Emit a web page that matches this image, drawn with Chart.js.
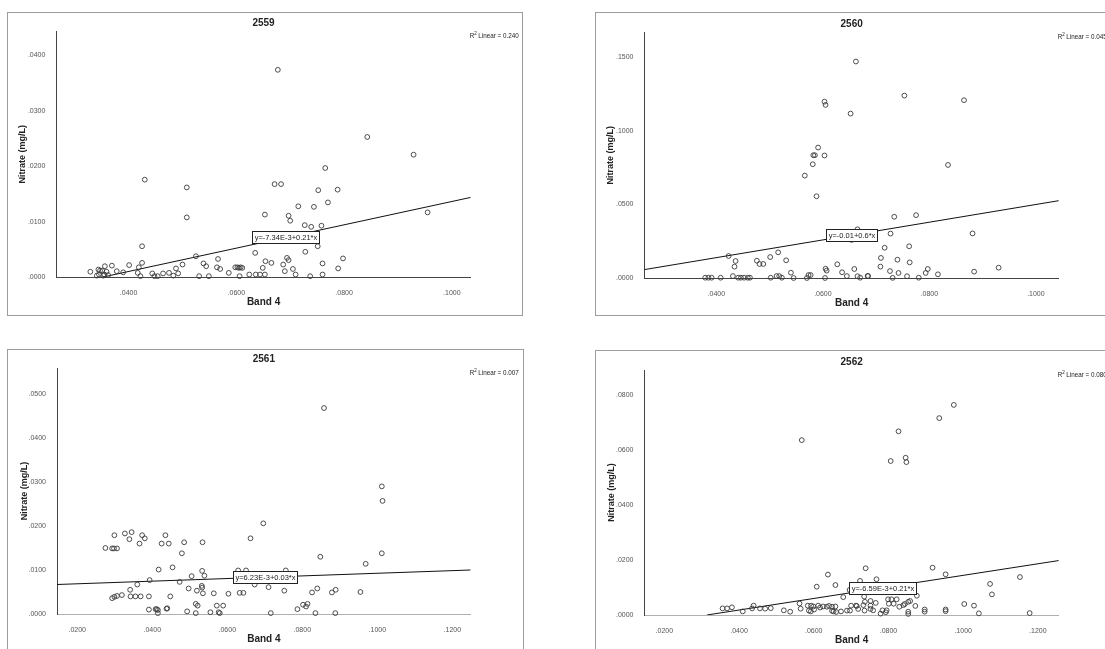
<!DOCTYPE html>
<html>
<head>
<meta charset="utf-8">
<script src="https://cdn.jsdelivr.net/npm/chart.js@4.4.1/dist/chart.umd.min.js"></script>
<style>
  html, body { margin: 0; padding: 0; background: #fff; width: 1105px; height: 649px; overflow: hidden; }
  .frame { position: absolute; border: 1px solid #9c9c9c; background: #fff; }
  canvas { display: block; }
</style>
</head>
<body>
<div class="frame" style="left:7px;top:12px;width:514px;height:302px"><canvas id="c2559" width="514" height="302"></canvas></div>
<div class="frame" style="left:595px;top:12px;width:560px;height:302px"><canvas id="c2560" width="560" height="302"></canvas></div>
<div class="frame" style="left:7px;top:349px;width:515px;height:300px"><canvas id="c2561" width="515" height="300"></canvas></div>
<div class="frame" style="left:595px;top:350px;width:560px;height:300px"><canvas id="c2562" width="560" height="300"></canvas></div>

<script>
// ---- 2559 ----
const band2559 = [0.0677, 0.0843, 0.0929, 0.0430, 0.0765, 0.0508, 0.0671, 0.0683, 0.0752, 0.0788,
  0.0770, 0.0715, 0.0744, 0.0653, 0.0697, 0.0700, 0.0508, 0.0955, 0.0727, 0.0739,
  0.0758, 0.0425, 0.0751, 0.0635, 0.0728, 0.0525, 0.0566, 0.0798, 0.0694, 0.0697,
  0.0654, 0.0665, 0.0760, 0.0687, 0.0539, 0.0544, 0.0500, 0.0425, 0.0401, 0.0419,
  0.0369, 0.0356, 0.0329, 0.0344, 0.0347, 0.0351, 0.0359, 0.0345, 0.0355, 0.0353,
  0.0378, 0.0390, 0.0417, 0.0422, 0.0444, 0.0454, 0.0448, 0.0464, 0.0475, 0.0483,
  0.0488, 0.0492, 0.0531, 0.0549, 0.0564, 0.0570, 0.0586, 0.0598, 0.0602, 0.0605,
  0.0608, 0.0611, 0.0606, 0.0624, 0.0636, 0.0644, 0.0653, 0.0649, 0.0705, 0.0789,
  0.0690, 0.0710, 0.0760, 0.0737, 0.0341, 0.0362];
const nitrate2559 = [0.0374, 0.0253, 0.0221, 0.0176, 0.0197, 0.0162, 0.0168, 0.0168, 0.0157, 0.0158,
  0.0135, 0.0128, 0.0127, 0.0113, 0.0111, 0.0102, 0.0108, 0.0117, 0.0094, 0.0091,
  0.0093, 0.0056, 0.0056, 0.0044, 0.0046, 0.0038, 0.0033, 0.0034, 0.0035, 0.0031,
  0.0029, 0.0026, 0.0025, 0.0023, 0.0025, 0.0020, 0.0023, 0.0026, 0.0022, 0.0018,
  0.0021, 0.0020, 0.0010, 0.0014, 0.0012, 0.0012, 0.0010, 0.0005, 0.0005, 0.0003,
  0.0011, 0.0009, 0.0008, 0.0002, 0.0007, 0.0002, 0.0002, 0.0007, 0.0008, 0.0003,
  0.0016, 0.0007, 0.0002, 0.0002, 0.0018, 0.0015, 0.0008, 0.0018, 0.0018, 0.0017,
  0.0018, 0.0017, 0.0002, 0.0005, 0.0005, 0.0005, 0.0005, 0.0017, 0.0015, 0.0016,
  0.0011, 0.0005, 0.0005, 0.0002, 0.0003, 0.0004];
const fit2559 = [[0.0350, 0.0], [0.1035, 0.0144]];
const xTicks2559 = [0.04, 0.06, 0.08, 0.10];
const yTicks2559 = [0, 0.01, 0.02, 0.03, 0.04];

// ---- 2560 ----
const band2560 = [0.0662, 0.0753, 0.0865, 0.0603, 0.0605, 0.0652, 0.0591, 0.0582, 0.0585, 0.0603,
  0.0581, 0.0835, 0.0566, 0.0588, 0.0775, 0.0734, 0.0665, 0.0727, 0.0881, 0.0654,
  0.0423, 0.0436, 0.0434, 0.0476, 0.0481, 0.0488, 0.0501, 0.0516, 0.0531, 0.0540,
  0.0545, 0.0605, 0.0607, 0.0627, 0.0636, 0.0659, 0.0665, 0.0573, 0.0577, 0.0570,
  0.0379, 0.0385, 0.0391, 0.0408, 0.0431, 0.0441, 0.0446, 0.0452, 0.0459, 0.0463,
  0.0502, 0.0513, 0.0518, 0.0523, 0.0604, 0.0645, 0.0670, 0.0685, 0.0716, 0.0762,
  0.0709, 0.0740, 0.0763, 0.0708, 0.0726, 0.0742, 0.0797, 0.0793, 0.0816, 0.0884,
  0.0930, 0.0684, 0.0731, 0.0758, 0.0780];
const nitrate2560 = [0.1469, 0.1238, 0.1207, 0.1197, 0.1175, 0.1116, 0.0886, 0.0834, 0.0834, 0.0832,
  0.0773, 0.0768, 0.0696, 0.0556, 0.0428, 0.0417, 0.0332, 0.0303, 0.0304, 0.0260,
  0.0151, 0.0117, 0.0079, 0.0119, 0.0097, 0.0097, 0.0144, 0.0176, 0.0122, 0.0038,
  0.0002, 0.0065, 0.0052, 0.0095, 0.0041, 0.0063, 0.0014, 0.0022, 0.0022, 0.0002,
  0.0004, 0.0004, 0.0004, 0.0004, 0.0015, 0.0004, 0.0004, 0.0004, 0.0004, 0.0004,
  0.0004, 0.0015, 0.0015, 0.0004, 0.0002, 0.0015, 0.0004, 0.0015, 0.0207, 0.0217,
  0.0138, 0.0126, 0.0108, 0.0079, 0.0049, 0.0036, 0.0063, 0.0036, 0.0027, 0.0045,
  0.0072, 0.0016, 0.0003, 0.0014, 0.0004];
const fit2560 = [[0.0265, 0.0059], [0.1043, 0.0526]];
const xTicks2560 = [0.04, 0.06, 0.08, 0.10];
const yTicks2560 = [0, 0.05, 0.10, 0.15];

// ---- 2561 ----
const band2561 = [0.0858, 0.1012, 0.1014, 0.1012, 0.0696, 0.0662, 0.0848, 0.0969, 0.0955, 0.0752,
  0.0710, 0.0673, 0.0756, 0.0840, 0.0826, 0.0889, 0.0879, 0.0802, 0.0810, 0.0814,
  0.0787, 0.0835, 0.0888, 0.0716, 0.0633, 0.0643, 0.0629, 0.0650, 0.0299, 0.0327,
  0.0345, 0.0339, 0.0373, 0.0380, 0.0366, 0.0275, 0.0293, 0.0298, 0.0306, 0.0435,
  0.0425, 0.0444, 0.0485, 0.0534, 0.0479, 0.0454, 0.0417, 0.0533, 0.0539, 0.0505,
  0.0393, 0.0473, 0.0360, 0.0341, 0.0293, 0.0299, 0.0306, 0.0319, 0.0342, 0.0355,
  0.0369, 0.0391, 0.0448, 0.0497, 0.0519, 0.0532, 0.0533, 0.0535, 0.0564, 0.0603,
  0.0516, 0.0521, 0.0572, 0.0589, 0.0391, 0.0409, 0.0412, 0.0415, 0.0438, 0.0440,
  0.0493, 0.0516, 0.0555, 0.0577, 0.0415, 0.0580];
const nitrate2561 = [0.0468, 0.0290, 0.0257, 0.0138, 0.0206, 0.0172, 0.0130, 0.0114, 0.0050, 0.0053,
  0.0061, 0.0067, 0.0099, 0.0058, 0.0049, 0.0055, 0.0049, 0.0021, 0.0017, 0.0023,
  0.0011, 0.0002, 0.0002, 0.0002, 0.0048, 0.0048, 0.0099, 0.0099, 0.0179, 0.0183,
  0.0186, 0.0170, 0.0179, 0.0172, 0.0160, 0.0150, 0.0149, 0.0149, 0.0149, 0.0179,
  0.0160, 0.0160, 0.0163, 0.0163, 0.0138, 0.0106, 0.0101, 0.0098, 0.0087, 0.0086,
  0.0077, 0.0073, 0.0067, 0.0055, 0.0036, 0.0039, 0.0041, 0.0043, 0.0040, 0.0040,
  0.0040, 0.0040, 0.0040, 0.0058, 0.0053, 0.0064, 0.0060, 0.0047, 0.0047, 0.0046,
  0.0023, 0.0019, 0.0019, 0.0019, 0.0010, 0.0011, 0.0011, 0.0009, 0.0012, 0.0013,
  0.0006, 0.0002, 0.0004, 0.0004, 0.0002, 0.0002];
const fit2561 = [[0.0146, 0.0067], [0.1249, 0.0100]];
const xTicks2561 = [0.02, 0.04, 0.06, 0.08, 0.10, 0.12];
const yTicks2561 = [0, 0.01, 0.02, 0.03, 0.04, 0.05];

// ---- 2562 ----
const band2562 = [0.0975, 0.0936, 0.0827, 0.0568, 0.0806, 0.0846, 0.0848, 0.0739, 0.0918, 0.0638,
  0.0953, 0.1152, 0.0608, 0.0658, 0.1072, 0.1077, 0.0768, 0.0724, 0.0876, 0.1003,
  0.1029, 0.1042, 0.1178, 0.0953, 0.0953, 0.0897, 0.0897, 0.0679, 0.0696, 0.0356,
  0.0368, 0.0381, 0.0410, 0.0439, 0.0435, 0.0456, 0.0470, 0.0485, 0.0520, 0.0537,
  0.0562, 0.0565, 0.0584, 0.0593, 0.0599, 0.0587, 0.0592, 0.0601, 0.0612, 0.0617,
  0.0625, 0.0635, 0.0641, 0.0649, 0.0658, 0.0649, 0.0653, 0.0660, 0.0673, 0.0689,
  0.0700, 0.0713, 0.0697, 0.0735, 0.0737, 0.0752, 0.0766, 0.0733, 0.0799, 0.0808,
  0.0822, 0.0801, 0.0814, 0.0844, 0.0853, 0.0858, 0.0829, 0.0840, 0.0872, 0.0715,
  0.0759, 0.0784, 0.0795, 0.0779, 0.0793, 0.0853, 0.0853, 0.0752, 0.0752, 0.0719,
  0.0736];
const nitrate2562 = [0.0764, 0.0716, 0.0668, 0.0636, 0.0560, 0.0572, 0.0556, 0.0170, 0.0172, 0.0147,
  0.0148, 0.0138, 0.0103, 0.0109, 0.0113, 0.0075, 0.0130, 0.0124, 0.0070, 0.0040,
  0.0034, 0.0006, 0.0007, 0.0020, 0.0014, 0.0020, 0.0012, 0.0065, 0.0091, 0.0024,
  0.0024, 0.0028, 0.0013, 0.0034, 0.0024, 0.0024, 0.0023, 0.0025, 0.0017, 0.0012,
  0.0042, 0.0023, 0.0034, 0.0034, 0.0031, 0.0016, 0.0013, 0.0020, 0.0034, 0.0027,
  0.0031, 0.0030, 0.0033, 0.0030, 0.0031, 0.0015, 0.0013, 0.0011, 0.0013, 0.0016,
  0.0034, 0.0034, 0.0016, 0.0067, 0.0048, 0.0051, 0.0044, 0.0036, 0.0057, 0.0057,
  0.0057, 0.0041, 0.0041, 0.0040, 0.0048, 0.0051, 0.0030, 0.0036, 0.0033, 0.0033,
  0.0017, 0.0017, 0.0017, 0.0005, 0.0010, 0.0012, 0.0004, 0.0034, 0.0022, 0.0022,
  0.0016];
const fit2562 = [[0.0314, 0.0], [0.1256, 0.0198]];
const xTicks2562 = [0.02, 0.04, 0.06, 0.08, 0.10, 0.12];
const yTicks2562 = [0, 0.02, 0.04, 0.06, 0.08];

const FONT = '"Liberation Sans", Arial, sans-serif';
const fmt = v => v.toFixed(4).replace(/^0/, '');

// title, R2 note and the equation box, drawn on top of the datasets
const notes = {
  id: 'notes',
  afterDatasetsDraw(chart, args, o) {
    const ctx = chart.ctx, a = chart.chartArea;
    ctx.save();
    ctx.fillStyle = '#222';
    ctx.textBaseline = 'middle';

    ctx.font = 'bold 10px ' + FONT;
    ctx.textAlign = 'center';
    ctx.fillText(o.title, (a.left + a.right) / 2, o.titleY);

    // R² Linear = ...
    ctx.textAlign = 'left';
    ctx.font = '6.3px ' + FONT;
    let x = a.right - 1, y = a.top + 5;
    ctx.fillText('R', x, y);
    x += ctx.measureText('R').width;
    ctx.font = '4.5px ' + FONT;
    ctx.fillText('2', x, y - 2);
    x += ctx.measureText('2').width + 1.5;
    ctx.font = '6.3px ' + FONT;
    ctx.fillText('Linear = ' + o.r2, x, y);

    // equation label
    const cx = chart.scales.x.getPixelForValue(o.eqX);
    const cy = chart.scales.y.getPixelForValue(o.eqY);
    ctx.font = '7.5px ' + FONT;
    const w = Math.round(ctx.measureText(o.eq).width + 4), h = 12;
    const bx = Math.round(cx - w / 2) + 0.5, by = Math.round(cy - h / 2) + 0.5;
    ctx.fillStyle = '#fff';
    ctx.fillRect(bx, by, w, h);
    ctx.strokeStyle = '#222';
    ctx.lineWidth = 1;
    ctx.strokeRect(bx, by, w, h);
    ctx.fillStyle = '#222';
    ctx.textAlign = 'center';
    ctx.fillText(o.eq, bx + w / 2, by + h / 2 + 0.5);
    ctx.restore();
  }
};

function makePanel(id, p) {
  const points = p.band.map((x, i) => ({ x: x, y: p.nitrate[i] }));
  new Chart(document.getElementById(id), {
    type: 'scatter',
    data: {
      datasets: [{
        data: points,
        pointStyle: 'circle',
        pointRadius: 2.4,
        borderColor: '#3a3a3a',
        backgroundColor: 'rgba(0,0,0,0)',
        borderWidth: 0.9,
        clip: false,
      }, {
        data: p.fit.map(f => ({ x: f[0], y: f[1] })),
        showLine: true,
        pointRadius: 0,
        borderColor: '#111',
        borderWidth: 1,
      }],
    },
    plugins: [notes],
    options: {
      responsive: false,
      animation: false,
      events: [],
      layout: { padding: { top: p.top, right: p.right, left: 0, bottom: 0 } },
      plugins: {
        legend: { display: false },
        tooltip: { enabled: false },
        notes: { title: p.title, titleY: p.titleY, r2: p.r2, eq: p.eq, eqX: p.eqX, eqY: p.eqY },
      },
      scales: {
        x: {
          type: 'linear', min: p.xMin, max: p.xMax,
          grid: { display: false },
          border: { display: true, color: p.xLine, width: 1 },
          afterBuildTicks: s => { s.ticks = p.xTicks.map(v => ({ value: v })); },
          afterFit: s => { s.height = p.xH; },
          ticks: { callback: fmt, color: '#555', font: { family: FONT, size: 7 }, padding: 3.5, maxRotation: 0, autoSkip: false },
          title: { display: true, text: 'Band 4', color: '#222', font: { family: FONT, size: 10, weight: 'bold' }, padding: { top: 0, bottom: p.xTitlePad } },
        },
        y: {
          type: 'linear', min: 0, max: p.yMax,
          grid: { display: false },
          border: { display: true, color: '#444', width: 1 },
          afterBuildTicks: s => { s.ticks = p.yTicks.map(v => ({ value: v })); },
          afterFit: s => { s.width = p.yW; },
          ticks: { callback: fmt, color: '#555', font: { family: FONT, size: 7 }, padding: 3, autoSkip: false },
          title: { display: true, text: 'Nitrate (mg/L)', color: '#222', font: { family: FONT, size: 9, weight: 'bold' }, padding: { top: p.yTitlePad, bottom: 0 } },
        },
      },
    },
  });
}

makePanel('c2559', {
  band: band2559, nitrate: nitrate2559, fit: fit2559, xTicks: xTicks2559, yTicks: yTicks2559,
  xMin: 0.0266, xMax: 0.1035, yMax: 0.0444,
  title: '2559', titleY: 10, r2: '0.240', eq: 'y=-7.34E-3+0.21*x', eqX: 0.0692, eqY: 0.0073,
  top: 18, right: 51.3, yW: 48.4, xH: 37.7, xLine: '#444', xTitlePad: 7, yTitlePad: 9.6,
});
makePanel('c2560', {
  band: band2560, nitrate: nitrate2560, fit: fit2560, xTicks: xTicks2560, yTicks: yTicks2560,
  xMin: 0.0265, xMax: 0.1043, yMax: 0.1669,
  title: '2560', titleY: 11, r2: '0.045', eq: 'y=-0.01+0.6*x', eqX: 0.0653, eqY: 0.0294,
  top: 19, right: 97.2, yW: 48.5, xH: 36.7, xLine: '#444', xTitlePad: 6, yTitlePad: 9,
});
makePanel('c2561', {
  band: band2561, nitrate: nitrate2561, fit: fit2561, xTicks: xTicks2561, yTicks: yTicks2561,
  xMin: 0.0146, xMax: 0.1249, yMax: 0.0559,
  title: '2561', titleY: 9, r2: '0.007', eq: 'y=6.23E-3+0.03*x', eqX: 0.0701, eqY: 0.0084,
  top: 18, right: 52.3, yW: 49, xH: 36, xLine: '#b0b0b0', xTitlePad: 5, yTitlePad: 10.9,
});
makePanel('c2562', {
  band: band2562, nitrate: nitrate2562, fit: fit2562, xTicks: xTicks2562, yTicks: yTicks2562,
  xMin: 0.0147, xMax: 0.1256, yMax: 0.0891,
  title: '2562', titleY: 11, r2: '0.080', eq: 'y=-6.59E-3+0.21*x', eqX: 0.0784, eqY: 0.0098,
  top: 19, right: 97.2, yW: 48.5, xH: 36, xLine: '#b0b0b0', xTitlePad: 5, yTitlePad: 10,
});
</script>
</body>
</html>
